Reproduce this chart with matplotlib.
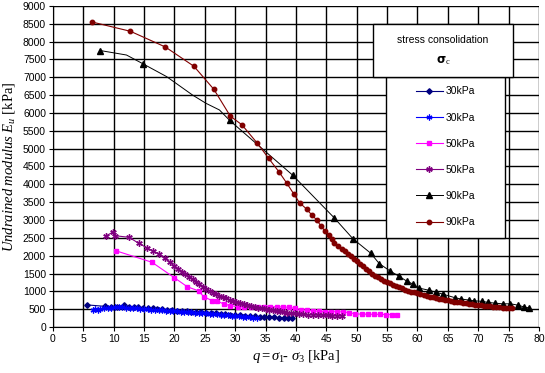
import matplotlib
matplotlib.use("Agg")
import matplotlib.pyplot as plt
from matplotlib.patches import Rectangle

# --- data ---
# 30 kPa (diamonds)
q30a = [5.6, 8.5, 9.5, 10.5, 11.7, 12.5, 13.3, 14.0, 14.8, 15.6, 16.4, 17.2, 18.0, 18.8,
        19.6, 20.4, 21.2, 22.0, 22.8, 23.6, 24.4, 25.2, 26.0, 26.8, 27.6, 28.4, 29.2, 30.0,
        30.8, 31.6, 32.4, 33.2, 34.0, 34.8, 35.6, 36.4, 37.2, 38.0, 38.7, 39.3]
E30a = [620, 580, 560, 565, 620, 560, 555, 550, 540, 530, 520, 505, 495, 480,
        470, 460, 450, 440, 430, 420, 410, 400, 390, 380, 370, 360, 350, 340,
        330, 320, 310, 300, 290, 285, 280, 270, 265, 255, 250, 245]

# 30 kPa (stars)
q30b = [6.6, 7.0, 7.4, 7.8, 8.4, 9.0, 9.6, 10.2, 10.8, 11.4, 12.0, 12.6, 13.2, 13.8, 14.4,
        15.0, 15.6, 16.2, 16.8, 17.4, 18.0, 18.6, 19.2, 19.8, 20.4, 21.0, 21.6, 22.2, 22.8,
        23.4, 24.0, 24.6, 25.2, 25.8, 26.4, 27.0, 27.6, 28.2, 28.8, 29.4, 30.0, 30.6, 31.2,
        31.8, 32.4, 33.0, 33.6]
E30b = [490, 500, 480, 510, 520, 540, 545, 550, 550, 550, 540, 530, 525, 520, 510,
        500, 495, 490, 480, 470, 465, 460, 450, 445, 440, 430, 425, 420, 410,
        405, 400, 390, 380, 370, 360, 355, 345, 335, 330, 320, 310, 300, 290,
        280, 270, 255, 240]

# 50 kPa (squares)
q50a = [10.3, 16.3, 20.0, 22.1, 24.0, 24.8, 26.2, 27.0, 28.1, 29.2, 30.4, 31.5, 32.6, 33.7,
        34.8, 35.8, 36.8, 37.8, 38.8, 39.8, 40.8, 41.8, 42.8, 43.8, 44.8, 45.8, 46.8, 47.8,
        48.8, 49.8, 50.8, 51.8, 52.8, 53.8, 54.8, 55.8, 56.6]
E50a = [2140, 1815, 1380, 1130, 1010, 850, 740, 730, 645, 600, 570, 560, 555, 550,
        560, 570, 565, 560, 555, 520, 490, 470, 450, 440, 430, 430, 430, 425,
        400, 370, 360, 360, 355, 355, 350, 350, 345]

# 50 kPa (stars)
q50b = [8.8, 9.8, 10.2, 12.5, 14.1, 15.5, 16.5, 17.5, 18.4, 19.2, 19.9, 20.6, 21.2, 21.8,
        22.4, 23.0, 23.6, 24.1, 24.7, 25.2, 25.8, 26.3, 26.9, 27.4, 28.0, 28.5, 29.1, 29.6,
        30.2, 30.8, 31.4, 32.0, 32.6, 33.2, 33.8, 34.4, 35.0, 35.6, 36.2, 36.8, 37.4, 38.0,
        38.6, 39.2, 39.8, 40.5, 41.2, 42.0, 42.8, 43.6, 44.4, 45.2, 46.0, 46.8, 47.6]
E50b = [2560, 2655, 2560, 2515, 2350, 2215, 2130, 2045, 1930, 1815, 1720, 1625, 1555, 1485,
        1410, 1340, 1270, 1200, 1130, 1075, 1020, 965, 920, 875, 835, 800, 770, 735,
        710, 680, 650, 620, 595, 570, 545, 525, 505, 485, 465, 450, 435, 420,
        405, 390, 380, 370, 360, 350, 340, 335, 330, 325, 320, 315, 310]

# 90 kPa (triangles) - line has a few points without markers
q90a = [7.8, 12.1, 14.8, 18.7, 23.0, 25.2, 27.4, 29.1, 39.5, 46.3, 49.4, 52.3, 53.7, 55.4,
        56.9, 58.2, 59.3, 60.3, 61.9, 63.1, 64.2, 66.2, 67.2, 68.5, 69.3, 70.6, 71.6, 72.7,
        74.0, 75.3, 76.5, 77.6, 78.4]
E90a = [7750, 7625, 7380, 7020, 6500, 6270, 6085, 5790, 4250, 3060, 2470, 2070, 1780, 1580,
        1430, 1290, 1200, 1090, 1030, 970, 920, 820, 785, 755, 735, 720, 690, 670,
        650, 650, 615, 560, 535]
no_marker_90a = [1, 3, 4, 5, 6]

# 90 kPa (circles)
q90b = [6.45, 12.75, 18.5, 23.2, 26.5, 29.2, 31.1, 33.6, 35.5, 37.2, 38.5, 39.6, 40.6, 41.8,
        42.6, 43.5, 44.1, 44.8, 45.5, 45.9, 46.3, 47.0, 47.5, 48.0, 48.5, 49.0, 49.5, 50.0,
        50.5, 51.0, 51.5, 52.0, 52.5, 53.0, 53.5, 54.0, 54.5, 55.0, 55.5, 56.0, 56.5, 57.0,
        57.5, 58.0, 58.5, 59.0, 59.5, 60.0, 60.5, 61.0, 61.5, 62.0, 62.5, 63.0, 63.5, 64.0,
        64.5, 65.0, 65.5, 66.0, 66.5, 67.0, 67.5, 68.0, 68.5, 69.0, 69.5, 70.0, 70.5, 71.0,
        71.5, 72.0, 72.5, 73.0, 73.5, 74.0, 74.5, 75.0, 75.5]
E90b = [8550, 8290, 7850, 7310, 6660, 5910, 5670, 5160, 4730, 4350, 4030, 3740, 3480, 3300,
        3140, 2990, 2830, 2690, 2580, 2460, 2350, 2270, 2200, 2130, 2060, 1990, 1920, 1850,
        1780, 1710, 1640, 1560, 1500, 1440, 1390, 1340, 1300, 1260, 1220, 1180, 1140, 1110,
        1080, 1050, 1020, 995, 970, 945, 920, 895, 870, 850, 830, 810, 790, 775,
        760, 745, 730, 715, 700, 690, 675, 660, 650, 640, 630, 615, 605, 595,
        585, 575, 565, 555, 550, 540, 535, 530, 525]

x_ticks = list(range(0, 85, 5))
y_ticks = list(range(0, 9500, 500))

plt.rcParams['font.family'] = 'Liberation Sans'
plt.rcParams['mathtext.fontset'] = 'custom'
plt.rcParams['mathtext.rm'] = 'Liberation Serif'
plt.rcParams['mathtext.it'] = 'Liberation Serif:italic'

fig = plt.figure(figsize=(5.45, 3.73), dpi=100)
ax = fig.add_axes([0.0972, 0.1233, 0.8917, 0.8607])

ax.plot(q30a, E30a, color='#000080', marker='D', ms=2.8, lw=0.8, label='30kPa')
ax.plot(q30b, E30b, color='#0000FF', marker=(6, 2, 0), ms=4.2, mew=0.9, lw=0.8, label='30kPa')
ax.plot(q50a, E50a, color='#FF00FF', marker='s', ms=3.5, lw=0.8, label='50kPa')
ax.plot(q50b, E50b, color='#800080', marker=(6, 2, 0), ms=4.6, mew=1.0, lw=0.8, label='50kPa')
mk = [i for i in range(len(q90a)) if i not in no_marker_90a]
ax.plot(q90a, E90a, color='black', marker='^', ms=4.6, lw=0.7, markevery=mk, label='90kPa')
ax.plot(q90b, E90b, color='#800000', marker='o', ms=3.2, lw=0.8, label='90kPa')

ax.set_xlim(0, 80)
ax.set_ylim(0, 9000)
ax.set_xticks(x_ticks)
ax.set_yticks(y_ticks)
ax.grid(True, color='black', lw=1.0)
ax.set_axisbelow(True)
for s in ax.spines.values():
    s.set_color('black')
    s.set_linewidth(0.8)
ax.spines['top'].set_visible(False)
ax.spines['right'].set_visible(False)
ax.tick_params(labelsize=7.5, length=3, width=0.8, pad=2)

ax.set_xlabel(r'$q = \sigma_1\!\text{-}\ \sigma_3\ \mathrm{[kPa]}$', fontsize=10.5, labelpad=3)
ax.set_ylabel(r'$Undrained\ modulus\ E_u\ \mathrm{[kPa]}$', fontsize=10.5, labelpad=4)

# legend body: white box, entries centred in it
ax.add_patch(Rectangle((0.686, 0.277), 0.244, 0.502, transform=ax.transAxes,
                       facecolor='white', edgecolor='black', lw=1.0, zorder=9))
leg = ax.legend(loc='center', bbox_to_anchor=(0.808, 0.530), fontsize=7.5, frameon=False,
                labelspacing=1.55, handlelength=2.6, handletextpad=0.3, borderaxespad=0)
leg.set_zorder(10)

# legend title box
ax.add_patch(Rectangle((0.658, 0.779), 0.289, 0.165, transform=ax.transAxes,
                       facecolor='white', edgecolor='black', lw=1.0, zorder=11, clip_on=False))
ax.text(0.8025, 0.895, 'stress consolidation', transform=ax.transAxes, ha='center', va='center',
        fontsize=7.5, zorder=12)
ax.text(0.8025, 0.83, r'$\mathbf{\sigma}_\mathrm{c}$', transform=ax.transAxes, ha='center',
        va='center', fontsize=8.5, zorder=12)

fig.savefig('out.png', dpi=100)
